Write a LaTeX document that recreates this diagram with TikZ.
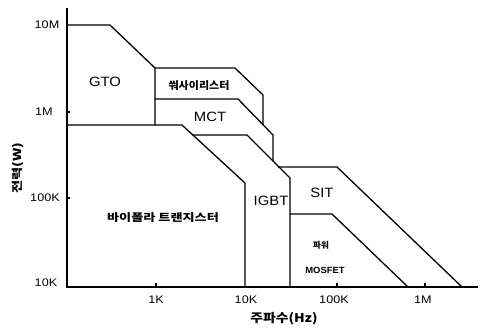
\documentclass[tikz,border=0pt]{standalone}
\usepackage{fontspec}
\setmainfont{Liberation Sans}
\newfontfamily\kr{Noto Sans CJK KR}
\begin{document}
\begin{tikzpicture}[x=1pt,y=-1pt,
  axis/.style={line width=1.7pt},
  region/.style={line width=1.3pt,line join=round},
  tickmark/.style={line width=1.2pt},
  ticklab/.style={inner sep=0pt,font=\fontsize{11}{12}\selectfont},
  devlab/.style={inner sep=0pt,font=\fontsize{13.5}{14}\selectfont},
  krlab/.style={inner sep=0pt,font=\kr\bfseries\fontsize{10.5}{12}\selectfont}]
\useasboundingbox (0,0) rectangle (480,333);
% axes
\coordinate (ytop) at (67,8);
\coordinate (orig) at (67,287);
\coordinate (xend) at (478,287);
\draw[axis] (ytop) -- (orig) -- (xend);
% ticks
\coordinate (t10M) at (67,25);
\coordinate (t1M) at (67,112);
\coordinate (t100K) at (67,198);
\draw[tickmark] (t1M) -- ++(3,0);
\draw[tickmark] (t100K) -- ++(3,0);
\coordinate (t1K) at (156,287);
\coordinate (tx100K) at (337,287);
\coordinate (tx1M) at (425,287);
\draw[tickmark] (t1K) -- ++(0,-4);
\draw[tickmark] (tx100K) -- ++(0,-4);
\draw[tickmark] (tx1M) -- ++(0,-4);
% regions
\coordinate (g1) at (67,25);
\coordinate (g2) at (110,25);
\coordinate (g3) at (155,68);
\coordinate (g4) at (155,125);
\draw[region] (g1) -- (g2) -- (g3) -- (g4);
\coordinate (th2) at (235,68);
\coordinate (th3) at (263,95);
\coordinate (th4) at (263,125);
\draw[region] (g3) -- (th2) -- (th3) -- (th4);
\coordinate (m1) at (155,99);
\coordinate (m2) at (238,99);
\coordinate (m3) at (273,135);
\coordinate (m4) at (273,161);
\draw[region] (m1) -- (m2) -- (m3) -- (m4);
\coordinate (b1) at (67,125);
\coordinate (b2) at (182,125);
\coordinate (b3) at (245,183);
\coordinate (b4) at (245,287);
\draw[region] (b1) -- (b2) -- (b3) -- (b4);
\coordinate (i1) at (193,135);
\coordinate (i2) at (247,135);
\coordinate (i3) at (290,178);
\coordinate (i4) at (290,287);
\draw[region] (i1) -- (i2) -- (i3) -- (i4);
\coordinate (s1) at (278,167);
\coordinate (s2) at (337,167);
\coordinate (s3) at (462,287);
\draw[region] (s1) -- (s2) -- (s3);
\coordinate (p1) at (290,214);
\coordinate (p2) at (332,214);
\coordinate (p3) at (408,287);
\draw[region] (p1) -- (p2) -- (p3);
% tick labels
\node[ticklab] (l10M) at (47,25) {\scalebox{1.15}[1]{10M}};
\node[ticklab] (l1M) at (44,112) {\scalebox{1.15}[1]{1M}};
\node[ticklab] (l100K) at (45,198) {\scalebox{1.15}[1]{100K}};
\node[ticklab] (l10K) at (46,283) {\scalebox{1.15}[1]{10K}};
\node[ticklab] (x1K) at (156,300) {\scalebox{1.15}[1]{1K}};
\node[ticklab] (x10K) at (246,300) {\scalebox{1.15}[1]{10K}};
\node[ticklab] (x100K) at (334,300) {\scalebox{1.15}[1]{100K}};
\node[ticklab] (x1M) at (423,300) {\scalebox{1.15}[1]{1M}};
% axis titles
\node[krlab,font=\kr\bfseries\fontsize{12}{13}\selectfont] (xt) at (284,319) {\scalebox{1.15}[1]{주파수(Hz)}};
\node[krlab,font=\kr\bfseries\fontsize{11}{12}\selectfont,rotate=90] (yt) at (18,168) {\scalebox{1.3}[1]{전력(W)}};
% device labels
\node[devlab] (gto) at (105,82) {\scalebox{1.1}[1]{GTO}};
\node[krlab] (thy) at (199,86) {\scalebox{1.05}[1]{쒀사이리스터}};
\node[devlab] (mct) at (210,117) {\scalebox{1.1}[1]{MCT}};
\node[krlab] (bjt) at (163,218) {\scalebox{1.25}[1]{바이폴라 트랜지스터}};
\node[devlab] (igbt) at (271,201) {\scalebox{1.1}[1]{IGBT}};
\node[devlab] (sit) at (322,193) {\scalebox{1.1}[1]{SIT}};
\node[krlab,font=\kr\bfseries\fontsize{8.5}{10}\selectfont] (pw) at (321,245) {파워};
\node[inner sep=0pt,font=\bfseries\fontsize{9}{10}\selectfont] (mos) at (325,270) {\scalebox{1.05}[1]{MOSFET}};
\end{tikzpicture}
\end{document}
